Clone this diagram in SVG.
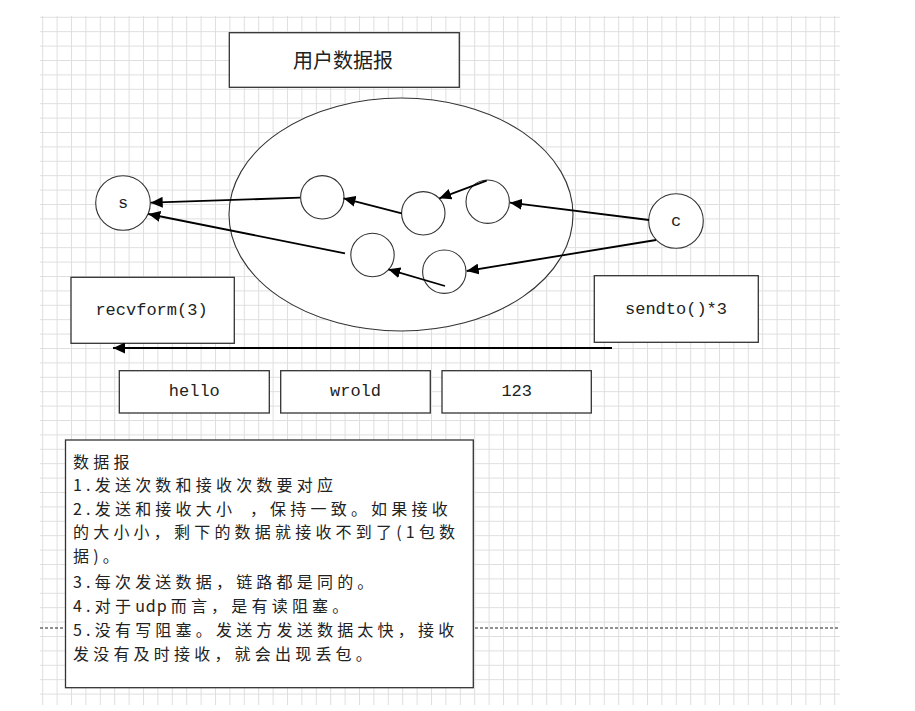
<svg xmlns="http://www.w3.org/2000/svg" width="915" height="711" viewBox="0 0 915 711">
<style>
.box{fill:#fff;stroke:#333;stroke-width:1.3}
.node{fill:#fff;stroke:#333;stroke-width:1.1}
.conn{stroke:#000;stroke-width:1.8;fill:none;marker-end:url(#ah)}
.lbl{font-family:"Liberation Mono",monospace;font-size:17px;fill:#222;text-anchor:middle;dominant-baseline:central}
.cjk{font-family:"Noto Sans CJK SC","Liberation Serif",sans-serif;fill:#222}
</style>
<defs>
<pattern id="grid" patternUnits="userSpaceOnUse" x="42.2" y="16.8" width="14.4" height="14.4">
<path d="M0,0.5 H14.4 M0.5,0 V14.4" stroke="#dedede" stroke-width="1" fill="none"/>
</pattern>
<marker id="ah" markerWidth="13" markerHeight="11" refX="12" refY="5.5" orient="auto" markerUnits="userSpaceOnUse">
<path d="M0,0 L12,5.5 L0,11 z" fill="#000"/>
</marker>
</defs>
<rect width="915" height="711" fill="#fff"/>
<rect x="40" y="16" width="800" height="689" fill="url(#grid)"/>
<line x1="40" y1="628" x2="840" y2="628" stroke="#222" stroke-width="1" stroke-dasharray="3,2"/>

<g id="title"><rect class="box" x="229.3" y="32.7" width="230" height="54.6"/><text class="cjk" x="343" y="59" font-size="20" text-anchor="middle" dominant-baseline="central">用户数据报</text></g>
<g id="ellipse"><ellipse class="node" cx="401" cy="214.5" rx="172" ry="116.5"/></g>
<g id="s"><circle class="node" cx="123" cy="203" r="27.3"/><text class="lbl" x="123" y="203">s</text></g>
<g id="c"><circle class="node" cx="676" cy="221" r="27.3"/><text class="lbl" x="676" y="221">c</text></g>
<g id="p1"><circle class="node" cx="322.3" cy="197.3" r="21.7"/></g>
<g id="p2"><circle class="node" cx="372.5" cy="255" r="21.7"/></g>
<g id="p3"><circle class="node" cx="423.3" cy="213.3" r="21.7"/></g>
<g id="p4"><circle class="node" cx="487.7" cy="201.7" r="21.7"/></g>
<g id="p5"><circle class="node" cx="444.3" cy="271.7" r="21.7"/></g>

<g id="recv"><rect class="box" x="71" y="277.3" width="163.3" height="66"/><text class="lbl" x="151.5" y="310">recvform(3)</text></g>
<g id="send"><rect class="box" x="594.3" y="275.7" width="164" height="66.6"/><text class="lbl" x="676" y="309">sendto()*3</text></g>
<g id="hello"><rect class="box" x="119.3" y="370.7" width="150" height="42.3"/><text class="lbl" x="194.3" y="391">hello</text></g>
<g id="wrold"><rect class="box" x="280.7" y="370.7" width="149.6" height="42.3"/><text class="lbl" x="355.5" y="391">wrold</text></g>
<g id="n123"><rect class="box" x="442" y="370.7" width="149.3" height="42.3"/><text class="lbl" x="516.7" y="391">123</text></g>

<g id="note"><rect class="box" x="65.5" y="440" width="407.8" height="247.7"/>
<text class="cjk" font-size="16" letter-spacing="4.2">
<tspan x="73" y="467.5">数据报</tspan>
<tspan x="73" y="491">1.发送次数和接收次数要对应</tspan>
<tspan x="73" y="514.5">2.发送和接收大小 <tspan dx="6">，保持一致。如果接收</tspan></tspan>
<tspan x="73" y="538">的大小小，剩下的数据就接收不到了(1包数</tspan>
<tspan x="73" y="561.5">据)。</tspan>
<tspan x="73" y="588">3.每次发送数据，链路都是同的。</tspan>
<tspan x="73" y="611.5">4.对于<tspan letter-spacing="1">udp</tspan><tspan dx="3">而言，是有读阻塞。</tspan></tspan>
<tspan x="73" y="636">5.没有写阻塞。发送方发送数据太快，接收</tspan>
<tspan x="73" y="659.5">发没有及时接收，就会出现丢包。</tspan>
</text></g>

<g id="connectors">
<line class="conn" x1="300" y1="197.7" x2="150.7" y2="202.7"/>
<line class="conn" x1="345" y1="253.3" x2="148.3" y2="214"/>
<line class="conn" x1="401.7" y1="213.3" x2="343.5" y2="198.3"/>
<line class="conn" x1="486.7" y1="180.7" x2="439.3" y2="198.3"/>
<line class="conn" x1="649" y1="220" x2="510" y2="202.7"/>
<line class="conn" x1="656" y1="240" x2="466.7" y2="271"/>
<line class="conn" x1="445" y1="286" x2="388.3" y2="269.3"/>
<line class="conn" x1="612" y1="348" x2="113" y2="348"/>
</g>
</svg>
